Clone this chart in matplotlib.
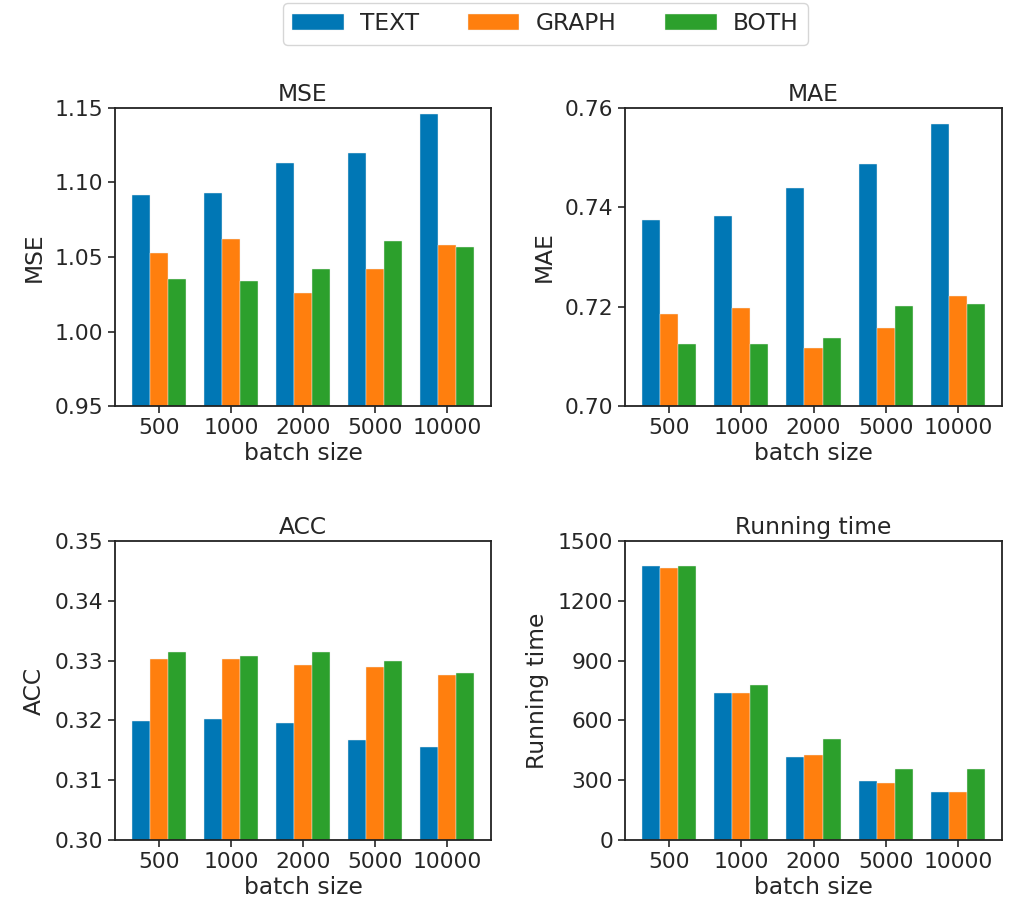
import matplotlib
matplotlib.use("Agg")
import matplotlib.pyplot as plt
import numpy as np

batch_sizes = ["500", "1000", "2000", "5000", "10000"]
series_names = ["TEXT", "GRAPH", "BOTH"]
colors = ["#0077B5", "#FF7F0E", "#2CA02C"]

mse_text = [1.0913, 1.0927, 1.1129, 1.1196, 1.1462]
mse_graph = [1.0525, 1.0618, 1.0260, 1.0418, 1.0578]
mse_both = [1.0351, 1.0338, 1.0418, 1.0605, 1.0567]

mae_text = [0.7375, 0.7383, 0.7439, 0.7488, 0.7568]
mae_graph = [0.7185, 0.7197, 0.7116, 0.7157, 0.7221]
mae_both = [0.7124, 0.7124, 0.7136, 0.7201, 0.7206]

acc_text = [0.3199, 0.3203, 0.3195, 0.3168, 0.3156]
acc_graph = [0.3303, 0.3303, 0.3293, 0.3290, 0.3276]
acc_both = [0.3314, 0.3307, 0.3314, 0.3300, 0.3280]

time_text = [1374, 737, 415, 294, 243]
time_graph = [1364, 737, 425, 284, 243]
time_both = [1374, 778, 505, 354, 354]

panels = [
    ("MSE", [mse_text, mse_graph, mse_both], (0.95, 1.15), [0.95, 1.00, 1.05, 1.10, 1.15], "{:.2f}"),
    ("MAE", [mae_text, mae_graph, mae_both], (0.70, 0.76), [0.70, 0.72, 0.74, 0.76], "{:.2f}"),
    ("ACC", [acc_text, acc_graph, acc_both], (0.30, 0.35), [0.30, 0.31, 0.32, 0.33, 0.34, 0.35], "{:.2f}"),
    ("Running time", [time_text, time_graph, time_both], (0, 1500), [0, 300, 600, 900, 1200, 1500], "{:.0f}"),
]

positions = [
    [115/1020, 1-406/900, 376/1020, 298/900],
    [625/1020, 1-406/900, 377/1020, 298/900],
    [115/1020, 1-840/900, 376/1020, 299/900],
    [625/1020, 1-840/900, 377/1020, 299/900],
]

fs_tick = 15.7
fs_lab = 16.8
tc = "#262626"
plt.rcParams['font.family'] = ['DejaVu Sans']
fig = plt.figure(figsize=(10.2, 9), dpi=100)

x = np.arange(len(batch_sizes))
w = 0.25
handles = []
for (title, data, ylim, yticks, fmt), pos in zip(panels, positions):
    ax = fig.add_axes(pos)
    for i, (vals, c, name) in enumerate(zip(data, colors, series_names)):
        b = ax.bar(x + (i - 1) * w, vals, w, color=c, edgecolor="#f0f0f0", linewidth=0.3, label=name)
        if title == "MSE":
            handles.append(b)
    ax.set_ylim(*ylim)
    ax.set_yticks(yticks)
    ax.set_yticklabels([fmt.format(v) for v in yticks])
    ax.set_xticks(x)
    ax.set_xticklabels(batch_sizes)
    ax.tick_params(labelsize=fs_tick, colors=tc, labelcolor=tc, length=5, width=1.2)
    ax.set_title(title, fontsize=fs_lab, color=tc, pad=5)
    ax.set_ylabel(title, fontsize=fs_lab, color=tc, labelpad=6)
    ax.set_xlabel("batch size", fontsize=fs_lab, color=tc, labelpad=3)
    for s in ax.spines.values():
        s.set_linewidth(1.3)
        s.set_color("#222222")

leg = fig.legend(handles=handles, labels=series_names, loc="upper center",
                 bbox_to_anchor=(545.5/1020, 1 - 3/900), ncol=3, fontsize=fs_lab,
                 handlelength=2.2, handletextpad=0.7, columnspacing=2.1,
                 frameon=True, fancybox=True, borderpad=0.4, borderaxespad=0)
for t in leg.get_texts():
    t.set_color(tc)

fig.savefig("out.png", dpi=100)
